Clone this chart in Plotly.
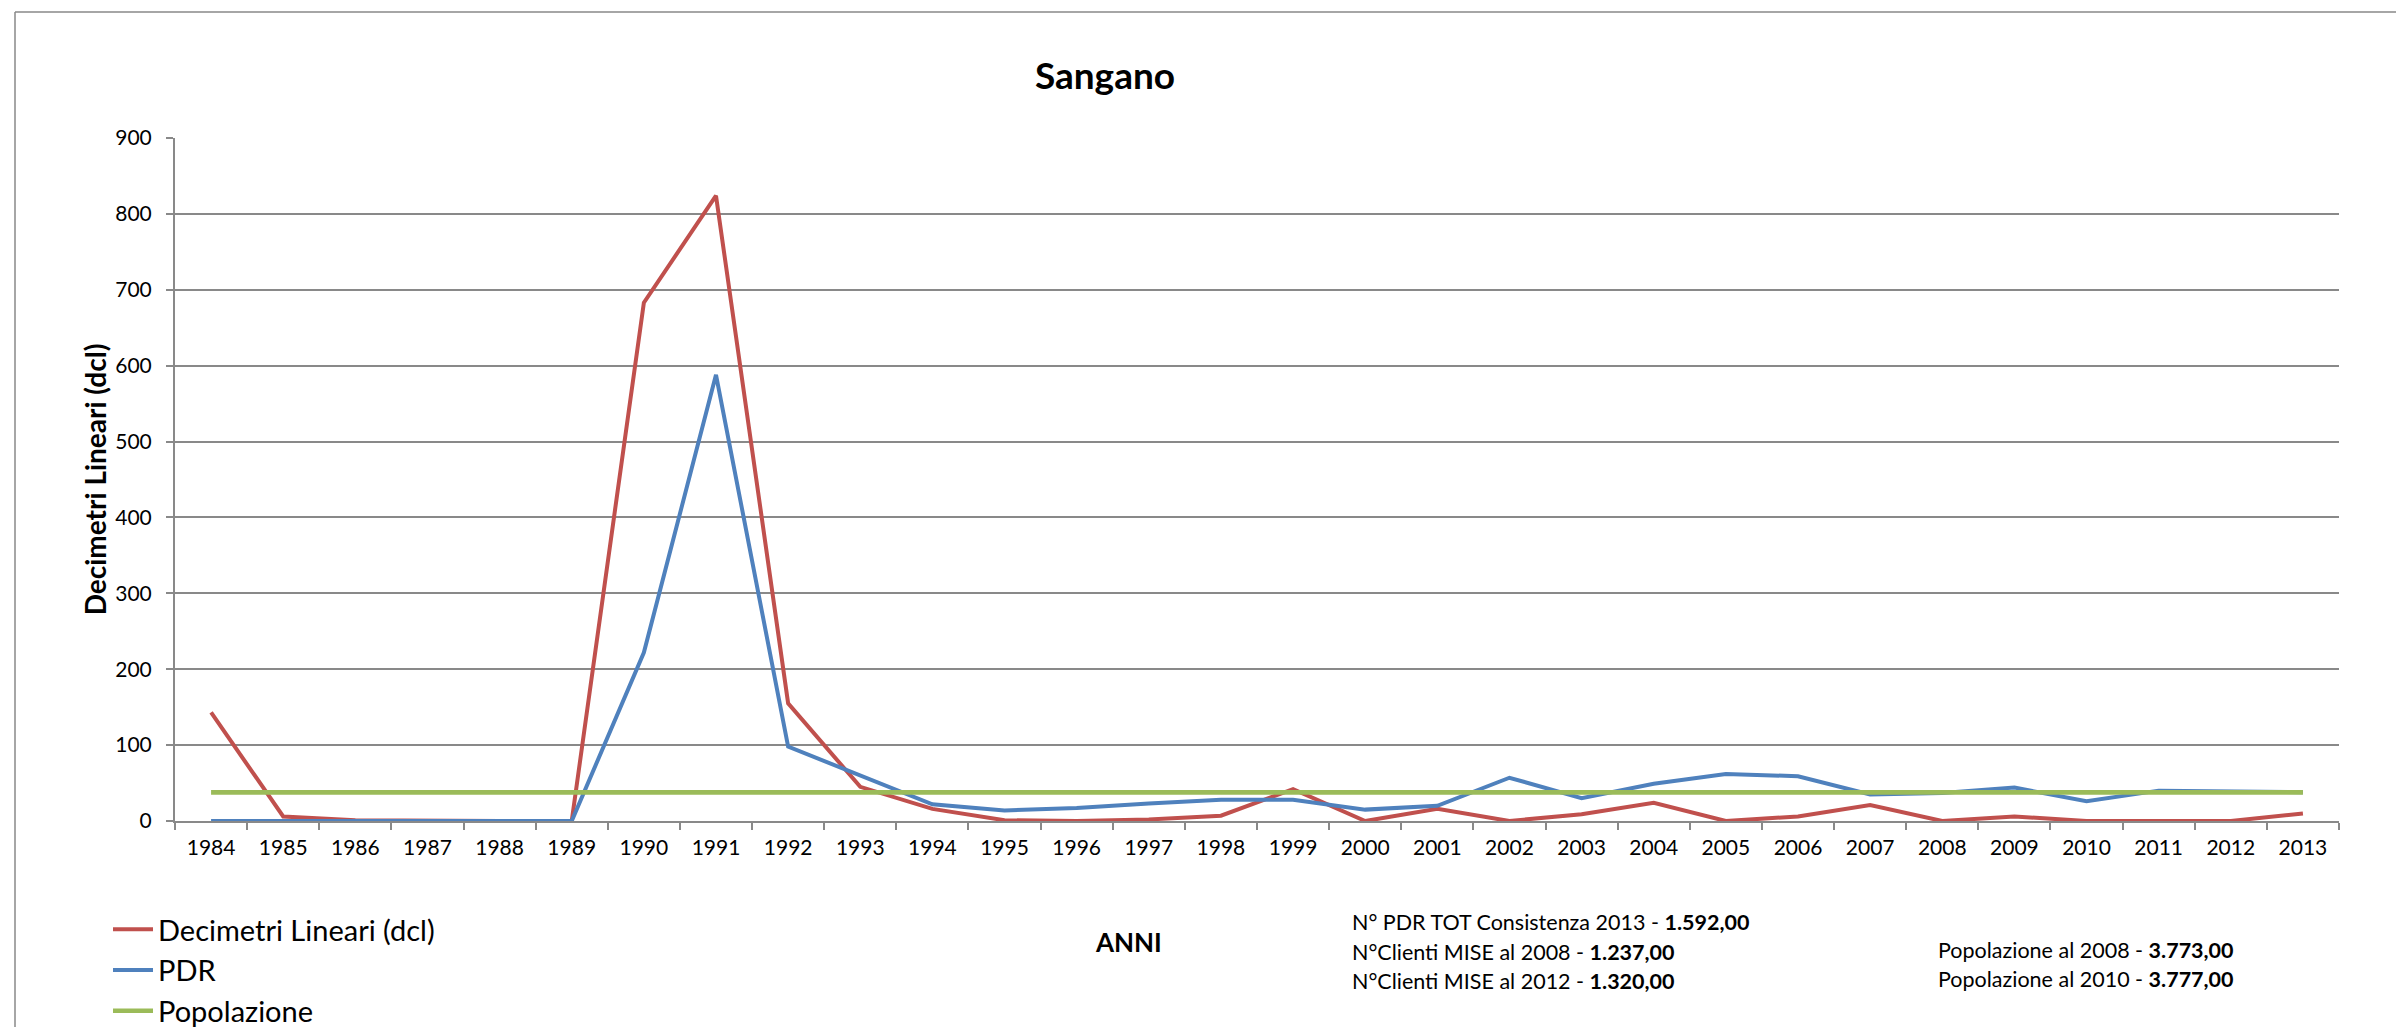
import plotly.graph_objects as go

# Anni di posa
anni = [str(a) for a in range(1984, 2014)]

# Decimetri lineari posati per anno
decimetri = [143, 6, 1, 0, 0, 0, 683, 824, 155, 45,
             16, 1, 0, 2, 7, 42, 0, 16, 0, 9,
             24, 0, 6, 21, 0, 6, 0, 0, 0, 10]

# Punti di riconsegna attivati per anno
pdr = [0, 0, 0, 0, 0, 0, 222, 588, 98, 60,
       22, 14, 17, 23, 28, 28, 15, 20, 57, 30,
       49, 62, 59, 35, 37, 44, 26, 40, 39, 38]

# Popolazione (centinaia di abitanti)
popolazione = [37.73] * len(anni)

serie_nomi = ["Decimetri Lineari (dcl)", "PDR", "Popolazione"]
serie_colori = ["#C0504D", "#4F81BD", "#9BBB59"]

titolo = "Sangano"
titolo_y = "Decimetri Lineari (dcl)"
titolo_x = "ANNI"

note_pdr = [
    "N° PDR TOT Consistenza 2013 - <b>1.592,00</b>",
    "N°Clienti MISE al 2008 - <b>1.237,00</b>",
    "N°Clienti MISE al 2012 - <b>1.320,00</b>",
]
note_pop = [
    "Popolazione al 2008 - <b>3.773,00</b>",
    "Popolazione al 2010 - <b>3.777,00</b>",
]

FONT = "Lato, 'Open Sans', sans-serif"
GRIGIO = "#898989"

W, H = 2396, 1027
ML, MR, MT, MB = 175, 57, 138, 206
PW, PH = W - ML - MR, H - MT - MB


def px_x(x):
    return (x - ML) / PW


def px_y(y):
    return (H - MB - y) / PH


fig = go.Figure()
for nome, valori, colore, larg in zip(serie_nomi, [decimetri, pdr, popolazione],
                                      serie_colori, [4, 4, 4.6]):
    fig.add_trace(go.Scatter(
        x=anni, y=valori, name=nome, mode="lines",
        line=dict(color=colore, width=larg),
        legendgroup=nome,
    ))

annotazioni = [
    dict(text="<b>" + titolo_x + "</b>", x=px_x(1128), y=px_y(942),
         xref="paper", yref="paper",
         showarrow=False, xanchor="center", yanchor="middle",
         font=dict(family=FONT, size=26, color="#000000")),
]
for i, t in enumerate(note_pdr):
    annotazioni.append(dict(
        text=t, x=px_x(1350), y=px_y(922 + i * 29.5), xref="paper", yref="paper",
        showarrow=False, xanchor="left", yanchor="middle",
        font=dict(family=FONT, size=21.5, color="#000000")))
for i, t in enumerate(note_pop):
    annotazioni.append(dict(
        text=t, x=px_x(1936), y=px_y(950 + i * 29), xref="paper", yref="paper",
        showarrow=False, xanchor="left", yanchor="middle",
        font=dict(family=FONT, size=21.5, color="#000000")))

# cornice dell'area del grafico (lati superiore e sinistro)
cornice = [
    dict(type="line", xref="paper", yref="paper",
         x0=px_x(15), x1=px_x(W + 10), y0=px_y(12), y1=px_y(12),
         line=dict(color=GRIGIO, width=1.5), layer="below"),
    dict(type="line", xref="paper", yref="paper",
         x0=px_x(15), x1=px_x(15), y0=px_y(12), y1=px_y(H + 10),
         line=dict(color=GRIGIO, width=1.5), layer="below"),
]

fig.update_layout(
    width=W, height=H,
    margin=dict(l=ML, r=MR, t=MT, b=MB, autoexpand=False),
    paper_bgcolor="white", plot_bgcolor="white",
    font=dict(family=FONT, color="#000000"),
    title=dict(text="<b>" + titolo + "</b>", x=1105 / W, xanchor="center",
               y=1 - 76 / H, yanchor="middle", yref="container",
               font=dict(family=FONT, size=37, color="#000000")),
    showlegend=True,
    legend=dict(orientation="v", x=px_x(108), xanchor="left",
                y=px_y(904), yanchor="top", tracegroupgap=0,
                font=dict(family=FONT, size=29, color="#000000"),
                itemwidth=40, bgcolor="rgba(0,0,0,0)"),
    annotations=annotazioni,
    shapes=cornice,
)

fig.update_xaxes(
    type="category", range=[-0.5, len(anni) - 0.5],
    showline=True, linecolor=GRIGIO, linewidth=2,
    ticks="outside", tickson="boundaries", ticklen=7, tickcolor=GRIGIO, tickwidth=1.5,
    ticklabelstandoff=7,
    tickfont=dict(family=FONT, size=21, color="#000000"),
    showgrid=False, zeroline=False,
)
fig.update_yaxes(
    range=[0, 900], dtick=100, tick0=0,
    showline=True, linecolor=GRIGIO, linewidth=2,
    ticks="outside", ticklen=7, tickcolor=GRIGIO, tickwidth=1.5,
    ticklabelstandoff=10,
    tickfont=dict(family=FONT, size=21, color="#000000"),
    showgrid=True, gridcolor=GRIGIO, gridwidth=1.8, zeroline=False,
    title=dict(text="<b>" + titolo_y + "</b>", standoff=0,
               font=dict(family=FONT, size=28, color="#000000")),
)

# la pagina ha le stesse dimensioni della figura: niente barre di scorrimento
fig.write_html(
    "out.html",
    post_script="document.documentElement.style.overflow='hidden';"
                "document.body.style.overflow='hidden';",
)
